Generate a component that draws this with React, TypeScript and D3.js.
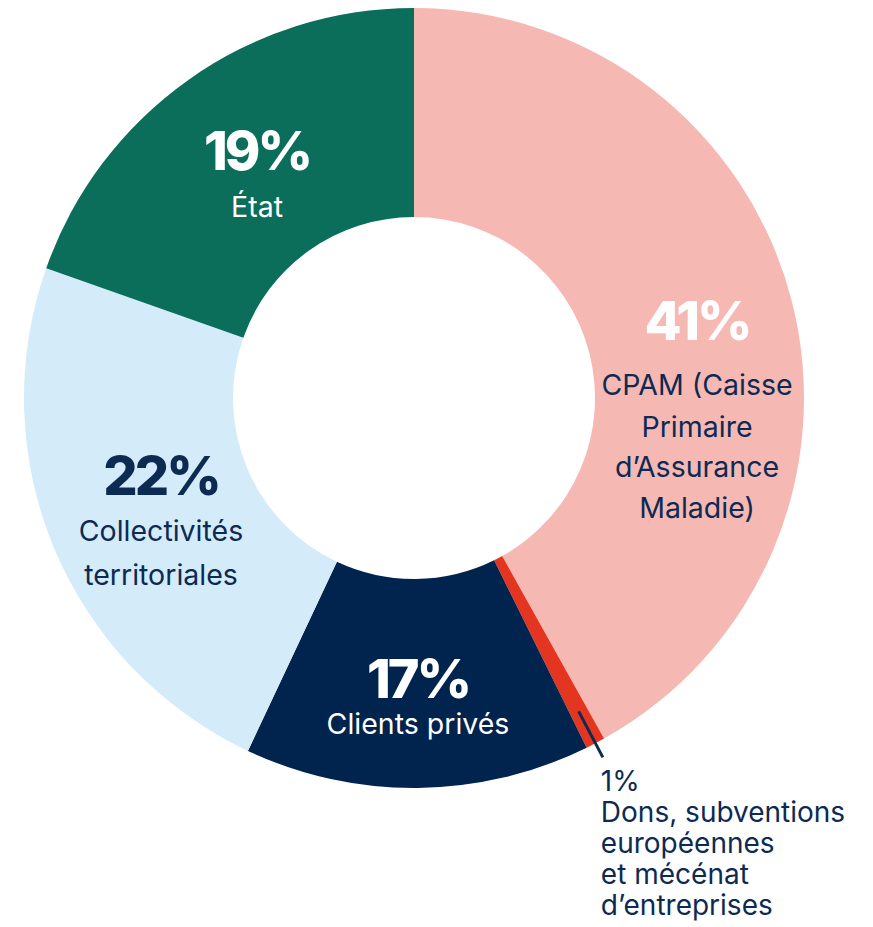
import { useRef, useEffect } from "react";
import * as d3 from "d3";

// slice sizes as drawn (the printed labels are rounded by the designer)
const categories = ["CPAM", "Dons", "Clients", "Collectivites", "Etat"];
const shares = [41.9, 0.8, 14.3, 23.4, 19.6];
const percentLabels = ["41%", "1%", "17%", "22%", "19%"];
const nameLines = [
  ["CPAM (Caisse", "Primaire", "d\u2019Assurance", "Maladie)"],
  ["Dons, subventions", "européennes", "et mécénat", "d\u2019entreprises"],
  ["Clients privés"],
  ["Collectivités", "territoriales"],
  ["État"],
];
const colors = ["#f6b8b2", "#e3351f", "#00244d", "#d4ebfa", "#0a6e5a"];

const NAVY = "#0c2a52";

// label placement relative to the donut centre
const labelLayout: Record<string, { dx: number; dy: number; pctFill: string; textFill: string; lineGap: number[] }> = {
  CPAM: { dx: 283, dy: -58, pctFill: "#fff", textFill: NAVY, lineGap: [55, 42, 40, 41] },
  Clients: { dx: 4, dy: 300, pctFill: "#fff", textFill: "#fff", lineGap: [36] },
  Collectivites: { dx: -253, dy: 97, pctFill: NAVY, textFill: NAVY, lineGap: [46, 44] },
  Etat: { dx: -157, dy: -228, pctFill: "#fff", textFill: "#fff", lineGap: [47] },
};

export default function App() {
  const ref = useRef<SVGSVGElement>(null);

  useEffect(() => {
    if (!ref.current) return;
    const svg = d3.select(ref.current);
    svg.selectAll("*").remove();

    const cx = 414;
    const cy = 398;
    const outer = 390;
    const inner = 181;

    const pie = d3.pie<number>().sort(null).value(d => d);
    const arcs = pie(shares);
    const arc = d3.arc<d3.PieArcDatum<number>>().innerRadius(inner).outerRadius(outer);

    const g = svg.append("g").attr("transform", `translate(${cx},${cy})`);

    g.selectAll("path")
      .data(arcs)
      .join("path")
      .attr("d", arc)
      .attr("fill", (_, i) => colors[i]);

    const font = "Inter, 'Noto Sans', sans-serif";

    categories.forEach((cat, i) => {
      const lay = labelLayout[cat];
      if (!lay) return;
      const t = g.append("g").attr("transform", `translate(${lay.dx},${lay.dy})`);
      t.append("text")
        .attr("text-anchor", "middle")
        .attr("font-family", font)
        .attr("font-weight", 800)
        .attr("font-size", 54)
        .attr("letter-spacing", -3)
        .attr("fill", lay.pctFill)
        .text(percentLabels[i]);
      let y = 0;
      nameLines[i].forEach((line, j) => {
        y += lay.lineGap[j];
        t.append("text")
          .attr("y", y)
          .attr("text-anchor", "middle")
          .attr("font-family", font)
          .attr("font-size", 28.5)
          .attr("fill", lay.textFill)
          .text(line);
      });
    });

    // small slice: leader line and outside label
    const small = arcs[1];
    const mid = (small.startAngle + small.endAngle) / 2;
    const p = (r: number) => [Math.sin(mid) * r, -Math.cos(mid) * r];
    const [x0, y0] = p(outer - 36);
    const [x1, y1] = p(outer + 16);
    g.append("line")
      .attr("x1", x0).attr("y1", y0)
      .attr("x2", x1).attr("y2", y1)
      .attr("stroke", NAVY)
      .attr("stroke-width", 3);

    const ox = x1 - 2;
    const oy = y1 + 34;
    const lines = [percentLabels[1], ...nameLines[1]];
    lines.forEach((line, j) => {
      g.append("text")
        .attr("x", ox)
        .attr("y", oy + j * 31)
        .attr("font-family", font)
        .attr("font-size", 28)
        .attr("fill", NAVY)
        .text(line);
    });
  }, []);

  return (
    <svg
      ref={ref}
      width={873}
      height={927}
      style={{ position: "absolute", left: 0, top: 0, background: "#fff" }}
    />
  );
}
